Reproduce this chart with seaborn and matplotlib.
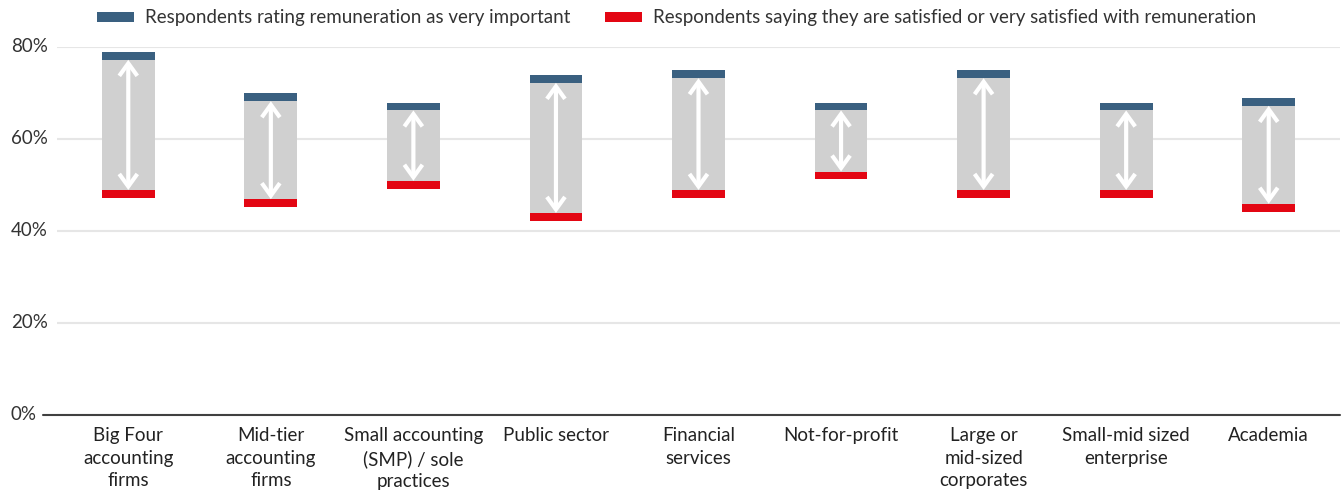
import matplotlib
matplotlib.use("Agg")
import matplotlib.pyplot as plt
from matplotlib.patches import Patch, FancyArrowPatch
import matplotlib.transforms as mtransforms
import seaborn as sns
import pandas as pd

# Survey results by employment sector (% of respondents)
sectors = [
    "Big Four\naccounting\nfirms",
    "Mid-tier\naccounting\nfirms",
    "Small accounting\n(SMP) / sole\npractices",
    "Public sector",
    "Financial\nservices",
    "Not-for-profit",
    "Large or\nmid-sized\ncorporates",
    "Small-mid sized\nenterprise",
    "Academia",
]
very_important = [78, 69, 67, 73, 74, 67, 74, 67, 68]
satisfied = [48, 46, 50, 43, 48, 52, 48, 48, 45]
y_ticks = [0, 20, 40, 60, 80]

legend_labels = [
    "Respondents rating remuneration as very important",
    "Respondents saying they are satisfied or very satisfied with remuneration",
]

BLUE = "#3a6080"
RED = "#e30613"
GREY = "#d0d0d0"
BAR_W = 0.37
BAND = 1.7  # thickness of the marker bands, in percentage points
FS = 13.5

sns.set_theme(style="white")
plt.rcParams["font.family"] = ["Lato", "DejaVu Sans"]

W, H = 1342, 492
fig = plt.figure(figsize=(W / 100, H / 100), dpi=100)
ax_left, ax_right = 57 / W, 1340 / W
ax_bottom, ax_top = 1 - 414.7 / H, 1 - 46.7 / H
ax = fig.add_axes([ax_left, ax_bottom, ax_right - ax_left, ax_top - ax_bottom])

df = pd.DataFrame({"sector": sectors, "important": very_important, "satisfied": satisfied})

# Grey gap bars spanning satisfaction -> importance
sns.barplot(data=df, x="sector", y="important", color=GREY, width=BAR_W,
            saturation=1, ax=ax, zorder=2)
for patch, lo, hi in zip(ax.patches, df["satisfied"], df["important"]):
    patch.set_y(lo)
    patch.set_height(hi - lo)
    patch.set_edgecolor("none")

xs = range(len(sectors))
# Marker bands for each series
ax.bar(xs, BAND, bottom=[v - BAND / 2 for v in very_important], width=BAR_W,
       color=BLUE, zorder=3, linewidth=0)
ax.bar(xs, BAND, bottom=[v - BAND / 2 for v in satisfied], width=BAR_W,
       color=RED, zorder=3, linewidth=0)

# Double-headed arrows showing the gap
for x, lo, hi in zip(xs, satisfied, very_important):
    arr = FancyArrowPatch((x, lo + BAND / 2), (x, hi - BAND / 2),
                          arrowstyle="<->,head_length=9,head_width=6.5",
                          mutation_scale=1, color="white", lw=3,
                          shrinkA=0, shrinkB=0, zorder=4, joinstyle="miter",
                          capstyle="butt")
    ax.add_patch(arr)

ax.set_xlim(-0.5, len(sectors) - 0.5)
ax.set_ylim(0, 80)
ax.set_xlabel("")
ax.set_ylabel("")
for s in ax.spines.values():
    s.set_visible(False)

# Gridlines
ax.set_yticks(y_ticks)
ax.yaxis.grid(True, color="#e6e6e6", lw=1.5, zorder=0)
ax.set_axisbelow(True)
ax.tick_params(axis="y", length=0, labelleft=False)
ax.tick_params(axis="x", length=0, pad=9)

ax_w_px = (ax_right - ax_left) * W
ax.axhline(0, xmin=-14 / ax_w_px, xmax=1, color="#404040", lw=1.5,
           clip_on=False, zorder=5)

# Percentage labels on the value axis
ytrans = mtransforms.blended_transform_factory(ax.transAxes, ax.transData)
for t in y_ticks:
    off = -21 / ax_w_px if t == 0 else -9 / ax_w_px
    ax.text(off, t, f"{t}%", transform=ytrans, ha="right", va="center",
            fontsize=FS, color="#333333")

ax.set_xticks(list(xs))
ax.set_xticklabels(sectors, fontsize=FS, color="#222222", linespacing=1.38,
                   ha="center", va="top")

handles = [Patch(facecolor=BLUE, edgecolor="none"),
           Patch(facecolor=RED, edgecolor="none")]
fig.legend(handles, legend_labels, loc="upper center", bbox_to_anchor=(0.5042, 1.015),
           ncol=2, frameon=False, fontsize=FS, handlelength=1.97, handleheight=0.45,
           columnspacing=1.8, handletextpad=0.6, labelcolor="#333333")

fig.savefig("out.png", dpi=100)
